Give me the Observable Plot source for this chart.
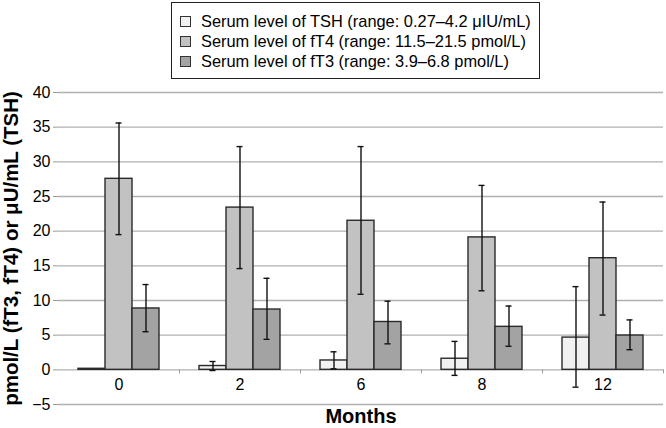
<!DOCTYPE html>
<html>
<head>
<meta charset="utf-8">
<script src="https://cdn.jsdelivr.net/npm/d3@7"></script>
<script src="https://cdn.jsdelivr.net/npm/@observablehq/plot@0.6"></script>
<style>
  html, body { margin: 0; padding: 0; background: #fff; }
  #wrap { position: relative; width: 666px; height: 428px; font-family: "Liberation Sans", Arial, sans-serif; }
  #legend { position: absolute; left: 171px; top: 2px; width: 367px; height: 75px; border: 1.5px solid #222; background: #fff; font-size: 16.4px; color: #000; }
  .row { position: absolute; left: 8px; height: 20px; display: flex; align-items: center; white-space: nowrap; }
  .sw { width: 9px; height: 9px; border: 1px solid #333; margin-right: 10px; }
</style>
</head>
<body>
<div id="wrap"><div id="chart"></div><div id="legend"></div></div>
<script>
const months = ["0", "2", "6", "8", "12"];
const tsh   = [0.15, 0.55, 1.35, 1.6, 4.65];
const tshLo = [null, -0.1, 0.15, -0.8, -2.5];
const tshHi = [null, 1.2, 2.6, 4.1, 12.0];
const ft4   = [27.55, 23.4, 21.5, 19.1, 16.1];
const ft4Lo = [19.5, 14.6, 10.9, 11.4, 7.9];
const ft4Hi = [35.6, 32.2, 32.2, 26.6, 24.2];
const ft3   = [8.85, 8.7, 6.9, 6.2, 4.95];
const ft3Lo = [5.5, 4.4, 3.75, 3.4, 2.9];
const ft3Hi = [12.3, 13.2, 9.9, 9.2, 7.2];
const seriesNames = [
  "Serum level of TSH (range: 0.27\u20134.2 \u03bcIU/mL)",
  "Serum level of fT4 (range: 11.5\u201321.5 pmol/L)",
  "Serum level of fT3 (range: 3.9\u20136.8 pmol/L)"
];
const seriesColors = ["#f1f1f1", "#c2c2c2", "#a3a3a3"];
const yTicks = [-5, 0, 5, 10, 15, 20, 25, 30, 35, 40];
const yTitle = "pmol/L (fT3, fT4) or \u03bcU/mL (TSH)";
const xTitle = "Months";

const W = 666, H = 428, mt = 92, mb = 24, ml = 58, mr = 3;
const yDom = [yTicks[0], yTicks[yTicks.length - 1]];
const plotH = H - mt - mb;
const zeroShift = -(0 - yDom[0]) / (yDom[1] - yDom[0]) * plotH;
const band = (W - ml - mr) / months.length;
const barW = 27, capW = 6;
const idx = months.map((_, i) => i);

const series = [
  {v: tsh, lo: tshLo, hi: tshHi, dx: -barW, fill: seriesColors[0]},
  {v: ft4, lo: ft4Lo, hi: ft4Hi, dx: 0, fill: seriesColors[1]},
  {v: ft3, lo: ft3Lo, hi: ft3Hi, dx: barW, fill: seriesColors[2]}
];

const marks = [
  Plot.gridY(yTicks, {stroke: "#b0b0b0", strokeOpacity: 1, strokeWidth: 1.3}),
  Plot.axisY({ticks: yTicks, tickSize: 5, tickPadding: 3, label: null, line: true, stroke: "#999", fill: "#000", fontSize: 16}),
  Plot.axisX({anchor: "bottom", dy: zeroShift, dx: band / 2, tickSize: 4, tickFormat: () => "", label: null, stroke: "#999"}),
  Plot.axisX({anchor: "bottom", dy: zeroShift, tickSize: 0, tickPadding: 9, label: null, fill: "#000", fontSize: 16})
];
for (const s of series) {
  const ii = idx.filter(i => s.v[i] != null);
  marks.push(Plot.barY(ii, {x: i => months[i], y: i => s.v[i], dx: s.dx, insetLeft: (band - barW) / 2, insetRight: (band - barW) / 2, fill: s.fill, stroke: "#2a2a2a", strokeWidth: 1.4}));
}
for (const s of series) {
  const ii = idx.filter(i => s.lo[i] != null);
  marks.push(Plot.ruleX(ii, {x: i => months[i], y1: i => s.lo[i], y2: i => s.hi[i], dx: s.dx, stroke: "#111", strokeWidth: 1.4}));
  marks.push(Plot.tickY(ii, {x: i => months[i], y: i => s.hi[i], dx: s.dx, insetLeft: (band - capW) / 2, insetRight: (band - capW) / 2, stroke: "#111", strokeWidth: 1.4}));
  marks.push(Plot.tickY(ii, {x: i => months[i], y: i => s.lo[i], dx: s.dx, insetLeft: (band - capW) / 2, insetRight: (band - capW) / 2, stroke: "#111", strokeWidth: 1.4}));
}
marks.push(Plot.text([yTitle], {frameAnchor: "left", textAnchor: "middle", rotate: -90, dx: -47, fontWeight: "bold", fontSize: 20.5, fill: "#000"}));
marks.push(Plot.text([xTitle], {frameAnchor: "bottom", dy: 18, fontWeight: "bold", fontSize: 20, fill: "#000"}));

const chart = Plot.plot({
  width: W, height: H,
  marginTop: mt, marginBottom: mb, marginLeft: ml, marginRight: mr,
  style: {fontFamily: "Liberation Sans, Arial, sans-serif", fontSize: "16px", background: "#fff", color: "#000"},
  x: {type: "band", domain: months, padding: 0, axis: null},
  y: {domain: yDom, axis: null},
  marks
});
document.getElementById("chart").appendChild(chart);

const legend = document.getElementById("legend");
const rowTops = [8, 28, 48];
seriesNames.forEach((name, i) => {
  const row = document.createElement("div");
  row.className = "row";
  row.style.top = rowTops[i] + "px";
  const sw = document.createElement("div");
  sw.className = "sw";
  sw.style.background = seriesColors[i];
  const t = document.createElement("span");
  t.textContent = name;
  row.appendChild(sw); row.appendChild(t);
  legend.appendChild(row);
});
</script>
</body>
</html>
